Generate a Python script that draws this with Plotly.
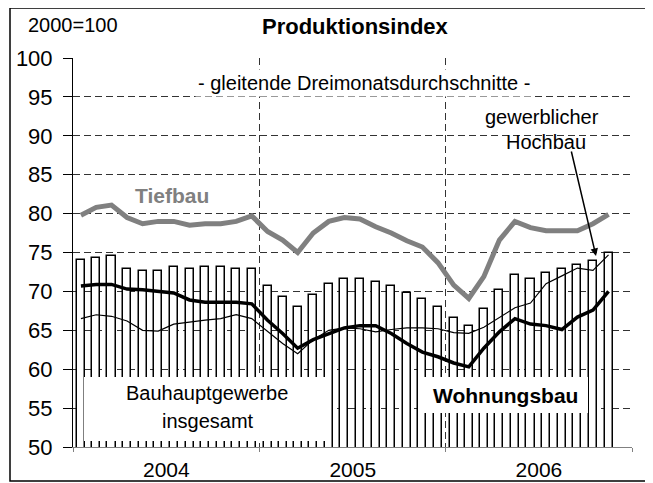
import plotly.graph_objects as go

# ---------------- data ----------------
months = [f"{y}-{m:02d}" for y in (2004, 2005, 2006) for m in range(1, 13)][:35]

bauhauptgewerbe = [74.0, 74.3, 74.6, 72.9, 72.6, 72.6, 73.1, 72.9, 73.1, 73.1, 72.9, 72.9,
                   70.7, 69.3, 68.0, 69.5, 70.9, 71.6, 71.6, 71.2, 70.7, 69.8, 69.0, 68.0,
                   66.6, 65.6, 67.8, 70.2, 72.1, 71.6, 72.4, 72.9, 73.4, 73.9, 75.0]

tiefbau = [79.8, 80.8, 81.1, 79.5, 78.7, 79.0, 79.0, 78.5, 78.7, 78.7, 79.0, 79.7,
           77.7, 76.6, 75.0, 77.5, 79.0, 79.5, 79.3, 78.3, 77.5, 76.5, 75.7, 73.7,
           70.8, 69.1, 71.9, 76.6, 79.0, 78.2, 77.8, 77.8, 77.8, 78.7, 79.9]

wohnungsbau = [70.7, 70.9, 70.9, 70.3, 70.2, 70.0, 69.8, 68.9, 68.6, 68.6, 68.6, 68.4,
               66.3, 64.6, 62.7, 63.8, 64.6, 65.3, 65.6, 65.6, 64.6, 63.3, 62.2, 61.6,
               60.8, 60.3, 62.7, 64.8, 66.5, 65.8, 65.6, 65.1, 66.7, 67.6, 70.0]

gew_hochbau = [66.5, 67.0, 66.8, 66.2, 65.0, 64.9, 65.8, 66.1, 66.3, 66.5, 67.0, 66.5,
               64.8, 63.3, 62.0, 63.8, 65.0, 65.3, 65.2, 64.8, 65.1, 65.3, 65.3, 65.2,
               64.7, 64.6, 65.4, 66.7, 67.9, 68.5, 71.0, 72.0, 73.0, 72.7, 74.7]

y_ticks = [50, 55, 60, 65, 70, 75, 80, 85, 90, 95, 100]

# ---------------- layout helpers ----------------
OFF = 8                                  # page body margin of the html page
W_FIG, H_FIG = 653 - OFF, 483 - OFF      # figure fits exactly inside the window
L, R, T, B = 73, 632, 58, 447            # plot area in screen pixels
PW, PH = R - L, B - T
FONT = "Liberation Sans, Arial, sans-serif"


def px(x):
    return (x - L) / PW


def py(y):
    return (B - y) / PH


BAR_WIDTH_MS = 0.52 * 30.44 * 86400000

fig = go.Figure()
fig.add_trace(go.Bar(
    x=months, y=bauhauptgewerbe, xperiod="M1", xperiodalignment="middle",
    width=BAR_WIDTH_MS, base=0,
    marker=dict(color="white", line=dict(color="black", width=1.5)),
    name="Bauhauptgewerbe insgesamt", showlegend=False,
))
fig.add_trace(go.Scatter(
    x=months, y=gew_hochbau, xperiod="M1", xperiodalignment="middle",
    mode="lines", line=dict(color="black", width=1.2),
    name="gewerblicher Hochbau", showlegend=False,
))
fig.add_trace(go.Scatter(
    x=months, y=wohnungsbau, xperiod="M1", xperiodalignment="middle",
    mode="lines", line=dict(color="black", width=3.5),
    name="Wohnungsbau", showlegend=False,
))
fig.add_trace(go.Scatter(
    x=months, y=tiefbau, xperiod="M1", xperiodalignment="middle",
    mode="lines", line=dict(color="#808080", width=5),
    name="Tiefbau", showlegend=False,
))

shapes = [
    # white label boxes
    dict(type="rect", xref="paper", yref="paper", x0=px(84), x1=px(326), y0=py(441), y1=py(377),
         fillcolor="white", line=dict(width=0), layer="above"),
    dict(type="rect", xref="paper", yref="paper", x0=px(420), x1=px(588), y0=py(413), y1=py(377),
         fillcolor="white", line=dict(width=0), layer="above"),
    # outer frame
    dict(type="rect", xref="paper", yref="paper", x0=px(10), x1=px(648), y0=py(481), y1=py(8),
         fillcolor="rgba(0,0,0,0)", line=dict(color="black", width=1.5), layer="above"),
]


def ann(text, x, y, size=20, bold=False, color="black", bg=None):
    d = dict(text=f"<b>{text}</b>" if bold else text, xref="paper", yref="paper",
             x=px(x), y=py(y), xanchor="center", yanchor="middle", showarrow=False,
             font=dict(family=FONT, size=size, color=color))
    if bg:
        d["bgcolor"] = bg
        d["borderpad"] = 2
    return d


annotations = [
    ann("2000=100", 72.5, 25, size=20),
    ann("Produktionsindex", 355.5, 27, size=22, bold=True),
    ann("- gleitende Dreimonatsdurchschnitte -", 363.5, 83, size=20, bg="white"),
    ann("gewerblicher", 542, 117, size=20),
    ann("Hochbau", 546, 142, size=20),
    ann("Tiefbau", 172, 195, size=21, bold=True, color="#808080"),
    ann("Bauhauptgewerbe", 207, 393, size=20),
    ann("insgesamt", 208, 421, size=20),
    ann("Wohnungsbau", 505, 395, size=21, bold=True),
    dict(text="", xref="paper", yref="paper", x=px(596), y=py(256), ax=-25, ay=-106,
         showarrow=True, arrowhead=2, arrowsize=1, arrowwidth=1.5, arrowcolor="black"),
]

fig.update_layout(
    width=W_FIG, height=H_FIG,
    margin=dict(l=L - OFF, r=W_FIG - (R - OFF), t=T - OFF, b=H_FIG - (B - OFF), pad=0,
                autoexpand=False),
    paper_bgcolor="white", plot_bgcolor="white",
    bargap=0, showlegend=False,
    font=dict(family=FONT, size=20, color="black"),
    shapes=shapes, annotations=annotations,
    xaxis=dict(
        type="date", range=["2004-01-01", "2007-01-01"],
        tick0="2004-01-01", dtick="M12", ticklabelmode="period", tickformat="%Y",
        ticks="outside", ticklen=4, tickcolor="#808080",
        showline=True, linecolor="#808080", linewidth=1,
        showgrid=True, gridcolor="#333333", gridwidth=1, griddash="7px,4px",
        tickfont=dict(family=FONT, size=21, color="black"),
        automargin=False, fixedrange=True,
    ),
    yaxis=dict(
        range=[50, 100], tickvals=y_ticks, ticktext=[str(v) for v in y_ticks],
        ticks="outside", ticklen=9, tickcolor="black", ticklabelstandoff=6,
        showline=True, linecolor="black", linewidth=1,
        showgrid=True, gridcolor="#333333", gridwidth=1, griddash="7px,4px",
        zeroline=False,
        tickfont=dict(family=FONT, size=22, color="black"),
        automargin=False, fixedrange=True,
    ),
)

fig.write_html("out.html")
